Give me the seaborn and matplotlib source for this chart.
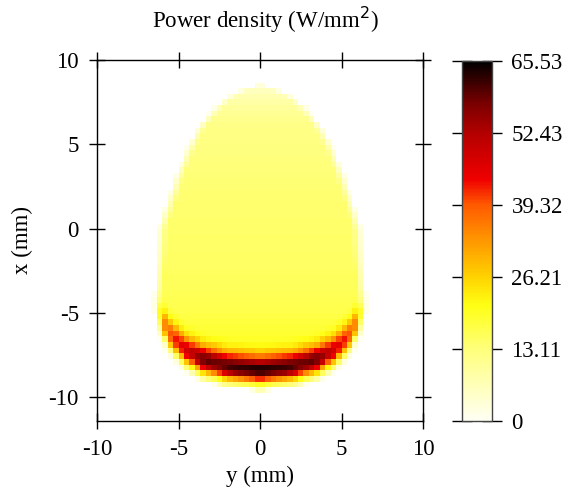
import numpy as np
import pandas as pd
import matplotlib
matplotlib.use("Agg")
import matplotlib.pyplot as plt
import seaborn as sns
from matplotlib.colors import LinearSegmentedColormap

# ---------------- data ----------------
# egg outline: half-width (mm, along y) at each x level (mm)
x_levels = [-9.6, -9.4, -9.0, -8.4, -7.4, -6.2, -5.0, -4.0, -2.0, 0.0, 1.5, 3.0, 4.7, 6.0, 7.2, 8.0, 8.6]
half_width = [0.0, 2.0, 3.5, 4.6, 5.6, 6.2, 6.3, 6.25, 6.1, 6.0, 5.5, 5.0, 4.3, 3.6, 2.6, 1.5, 0.0]
# background power density (W/mm^2) along x
base_x = [-9.6, -8.0, -7.0, -6.0, -5.0, -4.0, -2.0, 0.0, 2.0, 4.0, 6.0, 7.0, 8.0, 8.6]
base_level = [20, 20, 20, 18.5, 17, 16, 15, 14.5, 14, 13, 12, 10, 7, 3]
# hot rim along the lower edge: excess density vs height above the edge (mm)
rim_d = [0.0, 0.3, 0.6, 0.9, 1.2, 1.5, 1.8, 2.1, 2.5, 2.9]
rim_excess = [0, 2, 14, 36, 43, 40, 26, 12, 3, 0]
# rim strength across |y| (mm)
rim_y = [0.0, 1.0, 2.0, 3.5, 4.7, 5.3, 5.9, 6.3]
rim_scale = [1.05, 1.0, 0.95, 0.9, 0.62, 0.55, 0.38, 0.2]
# fade-out below the lower edge
fade_d = [-0.4, 0.0, 0.3, 0.6]
fade_val = [0.0, 0.35, 0.75, 1.0]

# axes / colour bar
y_ticks = [-10, -5, 0, 5, 10]
x_ticks = [-10, -5, 0, 5, 10]
cbar_ticks = [0, 13.11, 26.21, 39.32, 52.43, 65.53]
cbar_labels = ["0", "13.11", "26.21", "39.32", "52.43", "65.53"]
vmax = 65.53
cmap_pos = [0, 13.11, 21, 26.21, 33, 39.32, 44, 52.43, 58, 65.53]
cmap_colors = ["#fffff4", "#ffff7a", "#ffff14", "#ffd200", "#ff9600",
               "#ff5a00", "#f00000", "#b40000", "#780000", "#000000"]

# ---------------- build the grid ----------------
ny, nx = 60, 64
y_lo, y_hi = -10.0, 10.0
x_lo, x_hi = -11.4, 10.0
dy = (y_hi - y_lo) / ny
dx = (x_hi - x_lo) / nx
yc = y_lo + (np.arange(ny) + 0.5) * dy
xc = x_hi - (np.arange(nx) + 0.5) * dx          # top row first
X, Y = np.meshgrid(xc, yc, indexing="ij")
AY = np.abs(Y)

hw = np.interp(X, x_levels, half_width, left=0, right=0)
side = np.clip((hw - AY) / 0.6 + 0.5, 0, 1)
imax = int(np.argmax(half_width[:8]))
xb = np.interp(AY, half_width[:imax + 1], x_levels[:imax + 1])
d = X - xb
fb = np.interp(d, fade_d, fade_val)
base = np.interp(X, base_x, base_level, left=0, right=0)
rim = np.interp(d, rim_d, rim_excess, left=0, right=0) * np.interp(AY, rim_y, rim_scale, right=0)
field = (base * fb + rim) * side
field = np.clip(field, 0, vmax)
df = pd.DataFrame(field, index=np.round(xc, 2), columns=np.round(yc, 2))
mask = df < 0.5

# ---------------- plot ----------------
sns.set_style("ticks")
plt.rcParams["font.family"] = ["Liberation Serif", "DejaVu Sans"]
plt.rcParams["axes.unicode_minus"] = False
for k in ["text.color", "axes.labelcolor", "xtick.color", "ytick.color"]:
    plt.rcParams[k] = "black"

cmap = LinearSegmentedColormap.from_list(
    "pd", list(zip([p / vmax for p in cmap_pos], cmap_colors)))

W, H = 566, 488
fig = plt.figure(figsize=(W / 100, H / 100), dpi=100)
ax = fig.add_axes([97 / W, 1 - 421 / H, 326 / W, 361 / H])
cax = fig.add_axes([462 / W, 1 - 421 / H, 30 / W, 360 / H])

sns.heatmap(df, ax=ax, cmap=cmap, vmin=0, vmax=vmax, mask=mask,
            cbar_ax=cax, cbar_kws={"ticks": cbar_ticks},
            xticklabels=False, yticklabels=False)

ax.set_xticks([(v - y_lo) / dy for v in y_ticks])
ax.set_xticklabels([str(v) for v in y_ticks])
ax.set_yticks([(x_hi - v) / dx for v in x_ticks])
ax.set_yticklabels([str(v) for v in x_ticks], rotation=0)
for s in ax.spines.values():
    s.set_visible(True)
    s.set_color("black")
    s.set_linewidth(1.0)
ax.tick_params(direction="inout", length=12, width=1, top=True, right=True,
               bottom=True, left=True, labelsize=16.5, pad=7, colors="black")
ax.set_xlabel("y (mm)", fontsize=16.5, color="black")
ax.set_ylabel("x (mm)", fontsize=16.5, color="black")
ax.xaxis.set_label_coords(0.5, -(466 - 421) / 361)
ax.yaxis.set_label_coords((33 - 97) / 326, 0.5)

cax.set_yticks(cbar_ticks)
cax.set_yticklabels(cbar_labels)
cax.tick_params(direction="inout", length=14, width=1, left=True, right=True,
                labelleft=False, labelright=True, labelsize=16.5, pad=7, colors="black")
cb = ax.collections[0].colorbar
cb.outline.set_visible(True)
cb.outline.set_edgecolor("#444444")
cb.outline.set_linewidth(1.0)

fig.text(265 / W, 1 - 20 / H, "Power density (W/mm$^2$)", fontsize=16.5,
         ha="center", va="center", color="black")

fig.savefig("out.png", dpi=100)
